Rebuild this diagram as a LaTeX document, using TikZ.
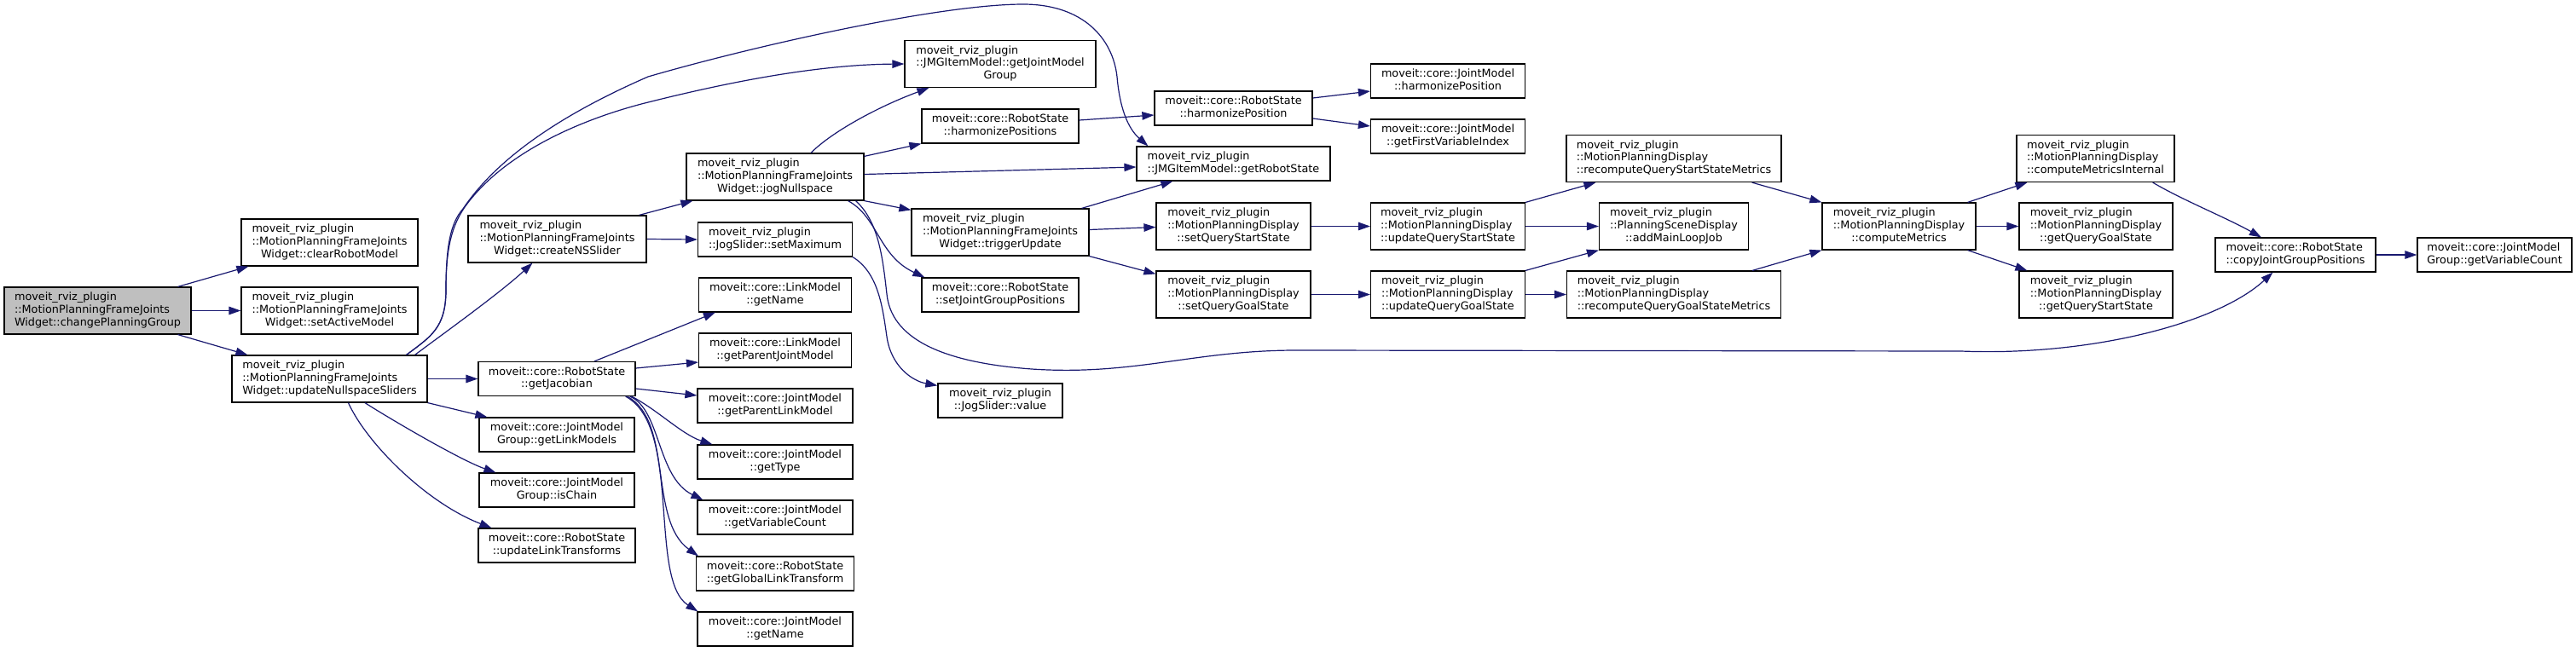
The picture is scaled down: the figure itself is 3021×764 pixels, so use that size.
\documentclass[tikz,border=0pt]{standalone}
\usepackage{fontspec}
\setmainfont{DejaVu Sans}
\usetikzlibrary{arrows.meta}
\definecolor{mblue}{HTML}{191970}
\definecolor{rootgray}{HTML}{BFBFBF}
\newcommand\lab[2]{\begin{tabular}{@{}l@{}}#1\\\multicolumn{1}{@{}c@{}}{#2}\end{tabular}}
\newcommand\mrp{moveit\_rviz\_plugin}
\newcommand\mpfj{\mrp\\::MotionPlanningFrameJoints}
\newcommand\mpd{\mrp\\::MotionPlanningDisplay}
\begin{document}
\begin{tikzpicture}[x=1pt,y=-1pt,
 nbox/.style={draw=black,line width=1.2pt,fill=white,inner sep=0pt,font=\fontsize{12.8}{14.7}\selectfont},
 bthree/.style={nbox,minimum height=55pt,minimum width=#1},
 btwo/.style={nbox,minimum height=40pt,minimum width=#1},
 cedge/.style={draw=mblue,line width=1.2pt,-{Triangle[length=14pt,width=9.5pt]}}]
\useasboundingbox[fill=white] (0,0) rectangle (3021,764);
% column 1
\node[bthree=219,fill=rootgray] (cpg) at (114.5,364.5) {\lab{\mpfj}{Widget::changePlanningGroup}};
% column 2
\node[bthree=207] (crm) at (386.5,284.5) {\lab{\mpfj}{Widget::clearRobotModel}};
\node[bthree=207] (sam) at (386.5,364.5) {\lab{\mpfj}{Widget::setActiveModel}};
\node[bthree=229] (uns) at (386.5,444.5) {\lab{\mpfj}{Widget::updateNullspaceSliders}};
% column 3
\node[bthree=209] (cns) at (653.5,280.5) {\lab{\mpfj}{Widget::createNSSlider}};
\node[btwo=184] (gjac) at (653,444.5) {\lab{moveit::core::RobotState}{::getJacobian}};
\node[btwo=182] (glm) at (653,510) {\lab{moveit::core::JointModel}{Group::getLinkModels}};
\node[btwo=182] (isc) at (653,575) {\lab{moveit::core::JointModel}{Group::isChain}};
\node[btwo=184] (ult) at (653,640) {\lab{moveit::core::RobotState}{::updateLinkTransforms}};
% column 4
\node[bthree=208] (jog) at (909,207.5) {\lab{\mpfj}{Widget::jogNullspace}};
\node[btwo=181] (smx) at (909,281) {\lab{\mrp}{::JogSlider::setMaximum}};
\node[btwo=179] (lmgn) at (909,346) {\lab{moveit::core::LinkModel}{::getName}};
\node[btwo=179] (gpjm) at (909,411) {\lab{moveit::core::LinkModel}{::getParentJointModel}};
\node[btwo=182] (gplm) at (909,476) {\lab{moveit::core::JointModel}{::getParentLinkModel}};
\node[btwo=182] (gtyp) at (909,542) {\lab{moveit::core::JointModel}{::getType}};
\node[btwo=182] (gvc) at (909,607) {\lab{moveit::core::JointModel}{::getVariableCount}};
\node[btwo=185] (gglt) at (909,673) {\lab{moveit::core::RobotState}{::getGlobalLinkTransform}};
\node[btwo=182] (jmgn) at (909,738) {\lab{moveit::core::JointModel}{::getName}};
% column 5
\node[bthree=224] (gjmg) at (1173,75) {\lab{\mrp\\::JMGItemModel::getJointModel}{Group}};
\node[btwo=184] (hps) at (1173,148) {\lab{moveit::core::RobotState}{::harmonizePositions}};
\node[bthree=208] (tu) at (1173,272.5) {\lab{\mpfj}{Widget::triggerUpdate}};
\node[btwo=184] (sjgp) at (1173,346) {\lab{moveit::core::RobotState}{::setJointGroupPositions}};
\node[btwo=146] (val) at (1173,470) {\lab{\mrp}{::JogSlider::value}};
% column 6
\node[btwo=185] (rhp) at (1446.5,127) {\lab{moveit::core::RobotState}{::harmonizePosition}};
\node[btwo=227] (grs) at (1446.5,192) {\lab{\mrp}{::JMGItemModel::getRobotState}};
\node[bthree=181] (sqss) at (1446.5,265.5) {\lab{\mpd}{::setQueryStartState}};
\node[bthree=181] (sqgs) at (1446.5,345.5) {\lab{\mpd}{::setQueryGoalState}};
% column 7
\node[btwo=181] (jhp) at (1698,95) {\lab{moveit::core::JointModel}{::harmonizePosition}};
\node[btwo=181] (gfvi) at (1698,160) {\lab{moveit::core::JointModel}{::getFirstVariableIndex}};
\node[bthree=181] (uqss) at (1698,265.5) {\lab{\mpd}{::updateQueryStartState}};
\node[bthree=181] (uqgs) at (1698,345.5) {\lab{\mpd}{::updateQueryGoalState}};
% column 8
\node[bthree=252] (rqssm) at (1963,186) {\lab{\mpd}{::recomputeQueryStartStateMetrics}};
\node[bthree=175] (aml) at (1963,265.5) {\lab{\mrp\\::PlanningSceneDisplay}{::addMainLoopJob}};
\node[bthree=251] (rqgsm) at (1963,345.5) {\lab{\mpd}{::recomputeQueryGoalStateMetrics}};
% column 9
\node[bthree=180] (cm) at (2227,265.5) {\lab{\mpd}{::computeMetrics}};
% column 10
\node[bthree=185] (cmi) at (2457.5,186) {\lab{\mpd}{::computeMetricsInternal}};
\node[bthree=180] (gqgs) at (2458,265.5) {\lab{\mpd}{::getQueryGoalState}};
\node[bthree=180] (gqss) at (2458,345.5) {\lab{\mpd}{::getQueryStartState}};
% column 11-12
\node[btwo=188] (cjgp) at (2692,299) {\lab{moveit::core::RobotState}{::copyJointGroupPositions}};
\node[btwo=181] (gvcg) at (2925.5,299) {\lab{moveit::core::JointModel}{Group::getVariableCount}};

% edges from changePlanningGroup
\draw[cedge] ([xshift=-16pt]cpg.north east) -- ([xshift=9pt]crm.south west);
\draw[cedge] (cpg.east) -- (sam.west);
\draw[cedge] ([xshift=-16pt]cpg.south east) -- ([xshift=19pt]uns.north west);
% edges from updateNullspaceSliders
\draw[cedge] ([xshift=-15pt]uns.north east) .. controls (515,395) and (585,345) .. ([xshift=76pt]cns.south west);
\draw[cedge] ([xshift=-25pt]uns.north east) .. controls (505,395) and (523,385) .. (523,340)
  .. controls (523,290) and (530,265) .. (545,243) .. controls (590,180) and (680,140) .. (760,120)
  .. controls (840,100) and (950,76) .. (gjmg.west);
\draw[cedge] ([xshift=-25pt]uns.north east) .. controls (505,395) and (523,385) .. (523,340)
  .. controls (523,290) and (528,262) .. (543,245) .. controls (590,175) and (680,125) .. (760,90)
  .. controls (880,55) and (1100,5) .. (1200,5) .. controls (1270,5) and (1305,45) .. (1310,90)
  .. controls (1313,125) and (1322,150) .. ([xshift=14pt]grs.north west);
\draw[cedge] (uns.east) -- (gjac.west);
\draw[cedge] (uns.south east) -- ([xshift=10pt]glm.north west);
\draw[cedge] ([xshift=41.5pt]uns.south) .. controls (455,490) and (540,540) .. ([xshift=20pt]isc.north west);
\draw[cedge] ([xshift=22pt]uns.south) .. controls (430,520) and (500,590) .. ([xshift=16pt]ult.north west);
% createNSSlider
\draw[cedge] ([xshift=-9pt]cns.north east) -- ([xshift=8pt]jog.south west);
\draw[cedge] (cns.east) -- (smx.west);
% jogNullspace
\draw[cedge] ([xshift=42pt]jog.north) .. controls (975,155) and (1030,125) .. ([xshift=29pt]gjmg.south west);
\draw[cedge] ([yshift=-4pt]jog.north east) -- (hps.south west);
\draw[cedge] ([yshift=3pt]jog.east) -- ([yshift=-4pt]grs.west);
\draw[cedge] (jog.south east) -- ([yshift=-2pt]tu.north west);
\draw[cedge] ([xshift=-19pt]jog.south east) .. controls (1030,255) and (1030,300) .. ([xshift=4pt]sjgp.north west);
\draw[cedge] ([xshift=-10pt]jog.south east) .. controls (1030,260) and (1035,300) .. (1040,345)
  .. controls (1045,395) and (1100,425) .. (1210,433) .. controls (1330,441) and (1400,411) .. (1520,411)
  -- (2300,412) .. controls (2450,418) and (2600,380) .. ([xshift=68pt]cjgp.south west);
\draw[cedge] (smx.south east) .. controls (1030,320) and (1035,360) .. (1040,395)
  .. controls (1045,430) and (1070,447) .. ([yshift=-3pt]val.north west);
% getJacobian
\draw[cedge] ([xshift=44pt]gjac.north) -- ([xshift=20pt]lmgn.south west);
\draw[cedge] ([yshift=12.5pt]gjac.east) -- ([yshift=-14pt]gpjm.west);
\draw[cedge] ([yshift=-11.5pt]gjac.east) -- ([yshift=12pt]gplm.west);
\draw[cedge] ([xshift=-5pt]gjac.south east) .. controls (770,480) and (800,510) .. ([xshift=18pt]gtyp.north west);
\draw[cedge] ([xshift=-7pt]gjac.south east) .. controls (775,480) and (770,560) .. ([xshift=7pt]gvc.north west);
\draw[cedge] ([xshift=-10pt]gjac.south east) .. controls (790,495) and (760,610) .. ([xshift=3pt]gglt.north west);
\draw[cedge] ([xshift=-12pt]gjac.south east) .. controls (800,500) and (760,680) .. ([xshift=1pt]jmgn.north west);
% harmonize
\draw[cedge] ([yshift=7pt]hps.east) -- ([yshift=-8pt]rhp.west);
\draw[cedge] ([yshift=12pt]rhp.east) -- ([yshift=-12pt]jhp.west);
\draw[cedge] ([yshift=-12pt]rhp.east) -- ([yshift=12pt]gfvi.west);
% triggerUpdate
\draw[cedge] ([xshift=-9pt]tu.north east) -- ([xshift=43pt]grs.south west);
\draw[cedge] ([yshift=3pt]tu.east) -- ([yshift=-1pt]sqss.west);
\draw[cedge] (tu.south east) -- ([yshift=-4pt]sqgs.north west);
\draw[cedge] (sqss.east) -- (uqss.west);
\draw[cedge] (sqgs.east) -- (uqgs.west);
\draw[cedge] (uqss.north east) -- ([xshift=35pt]rqssm.south west);
\draw[cedge] (uqss.east) -- (aml.west);
\draw[cedge] (uqgs.north east) -- (aml.south west);
\draw[cedge] (uqgs.east) -- (rqgsm.west);
\draw[cedge] ([xshift=-35pt]rqssm.south east) -- (cm.north west);
\draw[cedge] ([xshift=-34pt]rqgsm.north east) -- (cm.south west);
\draw[cedge] ([xshift=-10pt]cm.north east) -- ([xshift=13pt]cmi.south west);
\draw[cedge] (cm.east) -- (gqgs.west);
\draw[cedge] ([xshift=-10pt]cm.south east) -- ([xshift=10pt]gqss.north west);
\draw[cedge] ([xshift=-26pt]cmi.south east) .. controls (2560,235) and (2610,255) .. ([xshift=54.5pt]cjgp.north west);
\draw[cedge] (cjgp.east) -- (gvcg.west);
\end{tikzpicture}
\end{document}
